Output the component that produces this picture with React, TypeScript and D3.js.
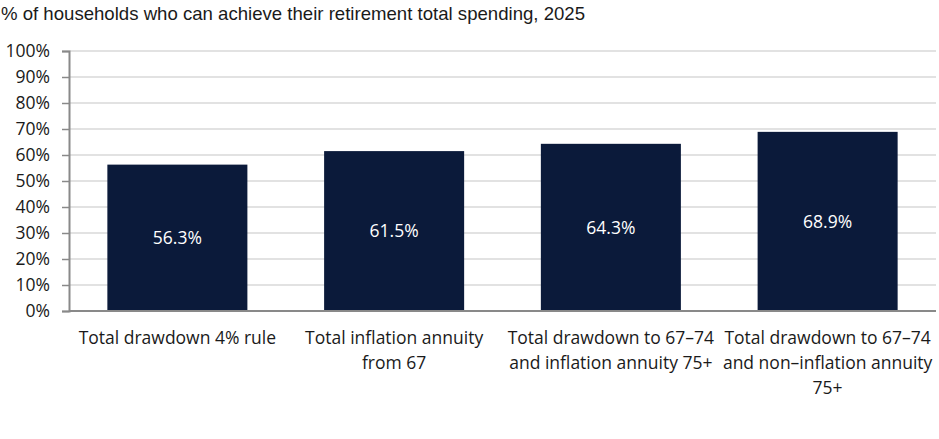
import * as d3 from 'd3';
import { useEffect, useRef } from 'react';

const width = 939;
const height = 439;

const title = '% of households who can achieve their retirement total spending, 2025';
const categories = [
  ['Total drawdown 4% rule'],
  ['Total inflation annuity', 'from 67'],
  ['Total drawdown to 67–74', 'and inflation annuity 75+'],
  ['Total drawdown to 67–74', 'and non–inflation annuity', '75+'],
];
const values = [56.3, 61.5, 64.3, 68.9];
const yTicks = [0, 10, 20, 30, 40, 50, 60, 70, 80, 90, 100];

const labelFont = '"Open Sans", "Noto Sans", sans-serif';

export default function App() {
  const ref = useRef<SVGSVGElement>(null);

  useEffect(() => {
    document.body.style.margin = '0';
    const svg = d3.select(ref.current);
    svg.selectAll('*').remove();

    const margin = { top: 51, right: 3, bottom: 128, left: 69 };
    const x = d3
      .scaleBand<number>()
      .domain(values.map((_, i) => i))
      .range([margin.left, width - margin.right])
      .paddingInner(0.354)
      .paddingOuter(0.177);
    const y = d3
      .scaleLinear()
      .domain([0, 100])
      .range([height - margin.bottom, margin.top]);

    svg
      .append('text')
      .attr('x', 1)
      .attr('y', 20)
      .attr('font-family', '"Liberation Sans", Arial, sans-serif')
      .attr('font-size', 18.6)
      .attr('fill', '#1a1a1a')
      .text(title);

    // gridlines
    svg
      .append('g')
      .selectAll('line')
      .data(yTicks.filter((t) => t > 0))
      .join('line')
      .attr('x1', margin.left)
      .attr('x2', width - margin.right)
      .attr('y1', (d) => y(d))
      .attr('y2', (d) => y(d))
      .attr('stroke', '#d9d9d9')
      .attr('stroke-width', 1.5);

    // y axis
    const yAxis = svg
      .append('g')
      .attr('transform', `translate(${margin.left},0)`)
      .call(
        d3
          .axisLeft(y)
          .tickValues(yTicks)
          .tickSize(7)
          .tickPadding(12)
          .tickFormat((d) => `${d}%`)
      );
    yAxis.select('.domain').attr('stroke', '#898989').attr('stroke-width', 2);
    yAxis.selectAll('.tick line').attr('stroke', '#898989').attr('stroke-width', 1.5);
    yAxis
      .selectAll('.tick text')
      .attr('font-family', labelFont)
      .attr('font-size', 17.5)
      .attr('fill', '#1a1a1a');

    // bars
    svg
      .append('g')
      .selectAll('rect')
      .data(values)
      .join('rect')
      .attr('x', (_, i) => x(i)!)
      .attr('width', x.bandwidth())
      .attr('y', (d) => y(d))
      .attr('height', (d) => y(0) - y(d))
      .attr('fill', '#0b1a3a');

    // baseline
    svg
      .append('line')
      .attr('x1', margin.left)
      .attr('x2', width - margin.right)
      .attr('y1', y(0))
      .attr('y2', y(0))
      .attr('stroke', '#898989')
      .attr('stroke-width', 2);

    // value labels
    svg
      .append('g')
      .selectAll('text')
      .data(values)
      .join('text')
      .attr('x', (_, i) => x(i)! + x.bandwidth() / 2)
      .attr('y', (d) => (y(d) + y(0)) / 2)
      .attr('dy', '0.35em')
      .attr('text-anchor', 'middle')
      .attr('font-family', labelFont)
      .attr('font-size', 17.5)
      .attr('fill', '#ffffff')
      .text((d) => `${d.toFixed(1)}%`);

    // category labels
    const cat = svg
      .append('g')
      .selectAll('text')
      .data(categories)
      .join('text')
      .attr('x', (_, i) => x(i)! + x.bandwidth() / 2)
      .attr('y', y(0) + 33)
      .attr('text-anchor', 'middle')
      .attr('font-family', labelFont)
      .attr('font-size', 17.5)
      .attr('fill', '#1a1a1a');
    cat
      .selectAll('tspan')
      .data((d) => d)
      .join('tspan')
      .attr('x', function () {
        return (this.parentNode as SVGTextElement).getAttribute('x');
      })
      .attr('dy', (_, j) => (j === 0 ? 0 : 25))
      .text((d) => d);
  }, []);

  return <svg ref={ref} width={width} height={height} style={{ display: 'block' }} />;
}
